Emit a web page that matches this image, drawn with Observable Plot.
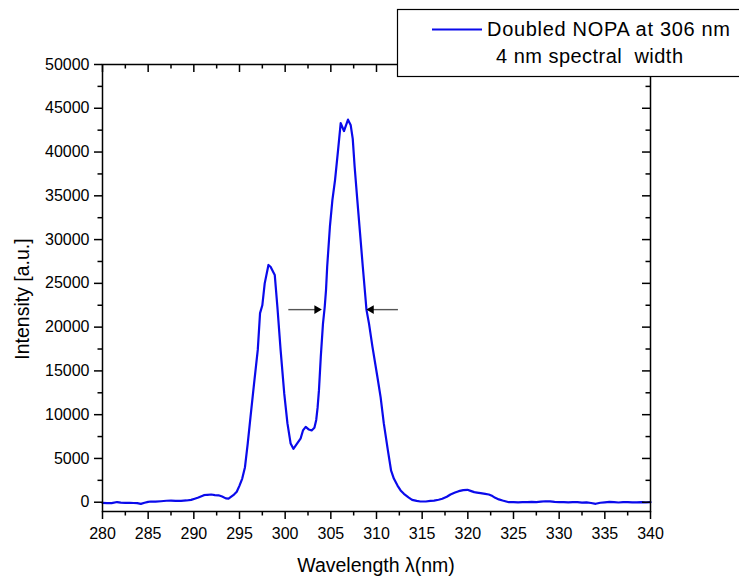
<!DOCTYPE html>
<html><head><meta charset="utf-8">
<script src="https://cdn.jsdelivr.net/npm/d3@7"></script>
<script src="https://cdn.jsdelivr.net/npm/@observablehq/plot@0.6"></script>
<style>body{margin:0;background:#fff;} #chart{position:relative;width:739px;height:581px;}</style>
</head><body><div id="chart"></div>
<script>
// Spectrum
const wavelength = [
280.0,280.5,281.0,281.6,282.0,282.5,283.0,283.4,283.8,284.2,284.6,285.0,285.3,285.8,286.4,287.0,287.5,288.0,288.6,289.2,
289.7,290.1,290.5,291.1,291.5,291.9,292.3,292.7,293.1,293.5,293.8,294.1,294.4,294.7,295.0,295.3,295.6,295.9,296.2,296.6,
297.0,297.25,297.5,297.76,298.17,298.4,298.86,299.15,299.5,299.9,300.25,300.6,300.9,301.3,301.7,301.95,302.25,302.6,302.9,303.2,
303.4,303.55,303.7,303.9,304.14,304.33,304.47,304.6,304.9,305.17,305.46,305.8,306.08,306.44,306.88,307.17,307.4,307.6,307.9,308.2,
308.5,308.78,308.9,309.18,309.55,310.1,310.45,310.8,311.25,311.6,311.9,312.3,312.64,313.0,313.5,313.9,314.4,314.8,315.4,315.9,
316.3,316.8,317.2,317.7,318.1,318.6,319.0,319.5,319.95,320.3,320.7,321.0,321.4,321.9,322.3,322.7,323.0,323.4,323.8,324.2,
324.5,325.0,325.5,326.0,326.5,327.0,327.5,328.0,328.5,329.0,329.5,330.0,330.5,331.0,331.5,332.0,332.5,333.0,333.5,334.0,
334.5,335.0,335.5,336.0,336.5,337.0,337.5,338.0,338.5,339.0,339.5,340.0];
const intensity = [
-80,-100,-110,20,-40,-70,-60,-90,-110,-190,-60,40,80,60,110,170,190,150,160,200,
270,400,540,800,850,880,820,790,650,440,420,650,880,1200,1900,2700,4000,6700,9700,13600,
17400,21600,22500,25000,27100,26900,25960,22300,17400,12400,9000,6700,6100,6700,7300,8200,8600,8300,8200,8500,
9400,10800,12800,16600,20400,22300,24200,26900,31500,34500,36800,40300,43300,42400,43700,43100,41500,38400,34500,30700,
26900,23500,22000,20400,17800,14300,12000,9000,5900,3600,2700,1900,1350,960,550,270,150,80,80,150,
190,280,390,620,880,1100,1260,1380,1420,1300,1150,1100,1030,950,880,700,500,320,190,80,
0,20,-10,10,0,30,20,60,110,90,40,20,0,-20,20,0,-40,-20,-90,-180,
-60,-20,30,10,-30,0,20,-20,-10,10,-30,0];

// FWHM arrows
const arrowFrom = [300.4, 312.4];
const arrowTo = [303.8, 309.1];
const arrowLevel = [22000, 22000];

// Axis ticks
const xMajorTicks = [280,285,290,295,300,305,310,315,320,325,330,335,340];
const xMinorTicks = [282.5,287.5,292.5,297.5,302.5,307.5,312.5,317.5,322.5,327.5,332.5,337.5];
const yMajorTicks = [0,5000,10000,15000,20000,25000,30000,35000,40000,45000,50000];
const yMinorTicks = [2500,7500,12500,17500,22500,27500,32500,37500,42500,47500];

// Texts
const legendLines = ["Doubled NOPA at 306 nm", "4 nm spectral  width"];
const xTitle = "Wavelength \u03BB(nm)";
const yTitle = "Intensity [a.u.]";

const spectrum = wavelength.map((w, i) => ({w, v: intensity[i]}));
const arrows = arrowFrom.map((x1, i) => ({x1, x2: arrowTo[i], y: arrowLevel[i]}));
const fmt = d3.format("d");

const chart = Plot.plot({
  width: 739, height: 581,
  marginLeft: 102, marginRight: 89, marginTop: 64, marginBottom: 70,
  style: {fontFamily: "'Liberation Sans', Arial, sans-serif", fontSize: "16px", color: "#000", background: "#fff", overflow: "visible"},
  x: {domain: [280, 340]},
  y: {domain: [-1060, 50000]},
  marks: [
    Plot.line(spectrum, {x: "w", y: "v", stroke: "#0a0aeb", strokeWidth: 2.2}),
    Plot.ruleY(arrows, {x1: "x1", x2: "x2", y: "y", stroke: "#555", strokeWidth: 1.4}),
    Plot.dot(arrows.filter(d => d.x2 > d.x1), {x: "x2", y: "y", symbol: "triangle", r: 3.2, fill: "#000", stroke: null, rotate: 90, dx: -3}),
    Plot.dot(arrows.filter(d => d.x2 < d.x1), {x: "x2", y: "y", symbol: "triangle", r: 3.2, fill: "#000", stroke: null, rotate: -90, dx: 3}),
    Plot.frame({stroke: "#000", strokeWidth: 1.5}),
    Plot.axisX({ticks: xMajorTicks, tickSize: 8, tickPadding: 8, tickFormat: fmt, label: null, strokeWidth: 1.5, fontSize: 16}),
    Plot.axisX({ticks: xMinorTicks, tickSize: 4.5, text: null, label: null, strokeWidth: 1.5}),
    Plot.tickX(xMajorTicks, {x: d => d, insetBottom: 447 - 8, stroke: "#000", strokeWidth: 1.5}),
    Plot.tickX(xMinorTicks, {x: d => d, insetBottom: 447 - 4.5, stroke: "#000", strokeWidth: 1.5}),
    Plot.axisY({ticks: yMajorTicks, tickSize: 8, tickPadding: 5, tickFormat: fmt, label: null, strokeWidth: 1.5, fontSize: 16}),
    Plot.axisY({ticks: yMinorTicks, tickSize: 4.5, text: null, label: null, strokeWidth: 1.5}),
    Plot.tickY(yMajorTicks, {y: d => d, insetLeft: 548 - 8, stroke: "#000", strokeWidth: 1.5}),
    Plot.tickY(yMinorTicks, {y: d => d, insetLeft: 548 - 4.5, stroke: "#000", strokeWidth: 1.5})
  ]
});

document.getElementById("chart").appendChild(chart);

const svg = d3.select(chart);
const font = "'Liberation Sans', Arial, sans-serif";
// axis titles
svg.append("text").attr("x", 376).attr("y", 572).attr("text-anchor", "middle")
  .attr("font-family", font).attr("font-size", 19.5).attr("fill", "#000").text(xTitle);
svg.append("text").attr("transform", "translate(29,299) rotate(-90)").attr("text-anchor", "middle")
  .attr("font-family", font).attr("font-size", 19.5).attr("fill", "#000").text(yTitle);
// legend box
const lg = svg.append("g").attr("text-anchor", "start");
lg.append("rect").attr("x", 397.5).attr("y", 9.5).attr("width", 360).attr("height", 67)
  .attr("fill", "#fff").attr("stroke", "#000").attr("stroke-width", 1.2);
lg.append("line").attr("x1", 432).attr("x2", 482).attr("y1", 29.5).attr("y2", 29.5)
  .attr("stroke", "#0a0aeb").attr("stroke-width", 2.2);
lg.append("text").attr("x", 487).attr("y", 36).attr("text-anchor", "start").attr("font-family", font).attr("font-size", 20)
  .attr("textLength", 243).attr("lengthAdjust", "spacing").attr("fill", "#000").text(legendLines[0]);
lg.append("text").attr("x", 496).attr("y", 63).attr("text-anchor", "start").attr("font-family", font).attr("font-size", 20)
  .attr("textLength", 187).attr("lengthAdjust", "spacing").attr("fill", "#000").attr("xml:space", "preserve")
  .style("white-space", "pre").text(legendLines[1]);
</script>
</body></html>
